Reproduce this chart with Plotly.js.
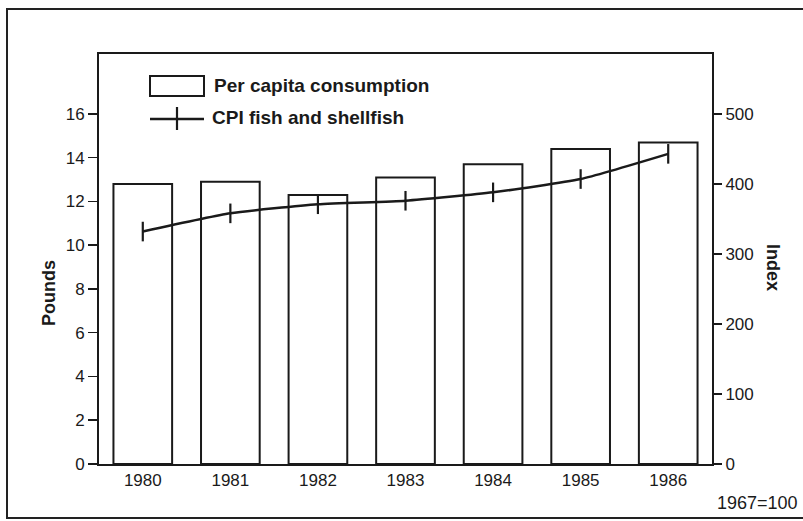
<!DOCTYPE html>
<html>
<head>
<meta charset="utf-8">
<script src="https://cdn.plot.ly/plotly-3.0.1.min.js"></script>
<style>
  html, body { margin: 0; padding: 0; background: #ffffff; }
  #chart { width: 803px; height: 521px; }
</style>
</head>
<body>
<div id="chart"></div>
<script>
// Fish and shellfish: per capita consumption vs. consumer price index
const years = ['1980', '1981', '1982', '1983', '1984', '1985', '1986'];
const consumptionPounds = [12.8, 12.9, 12.3, 13.1, 13.7, 14.4, 14.7];
const cpiFishShellfish = [332, 358, 371, 376, 388, 407, 443];

const leftTicks = [0, 2, 4, 6, 8, 10, 12, 14, 16];
const rightTicks = [0, 100, 200, 300, 400, 500];

const legendLabels = ['Per capita consumption', 'CPI fish and shellfish'];
const leftTitle = 'Pounds';
const rightTitle = 'Index';
const baseNote = '1967=100';

const ink = '#1a1a1a';
const font = 'Liberation Sans, Arial, Helvetica, sans-serif';

const bars = {
  type: 'bar',
  x: years,
  y: consumptionPounds,
  marker: { color: '#ffffff', line: { color: ink, width: 2 } },
  hoverinfo: 'x+y',
  name: legendLabels[0]
};

const cpi = {
  type: 'scatter',
  mode: 'lines+markers',
  x: years,
  y: cpiFishShellfish,
  yaxis: 'y2',
  line: { color: ink, width: 2.5, shape: 'spline', smoothing: 0.5 },
  marker: { symbol: 'line-ns', size: 14, line: { color: ink, width: 2.2 } },
  name: legendLabels[1]
};

// plot area: x 99..712 px, y 54..464 px
const L = 99, R = 712, T = 54, B = 464;
const W = 803, H = 521;
const px = v => (v - L) / (R - L);
const py = v => (B - v) / (B - T);

const shapes = [
  // outer frame
  { type: 'rect', xref: 'paper', yref: 'paper',
    x0: px(7), x1: px(806), y0: py(518), y1: py(9),
    line: { color: '#222', width: 2 } },
  // legend key: bar
  { type: 'rect', xref: 'paper', yref: 'paper',
    x0: px(150), x1: px(204), y0: py(96), y1: py(76),
    line: { color: ink, width: 2 }, fillcolor: '#ffffff' },
  // legend key: line with tick
  { type: 'line', xref: 'paper', yref: 'paper',
    x0: px(150), x1: px(204), y0: py(119), y1: py(119),
    line: { color: ink, width: 2.5 } },
  { type: 'line', xref: 'paper', yref: 'paper',
    x0: px(177), x1: px(177), y0: py(107), y1: py(130),
    line: { color: ink, width: 2.2 } }
];

const annotations = [
  { xref: 'paper', yref: 'paper', x: px(212), y: py(86),
    xanchor: 'left', yanchor: 'middle', showarrow: false,
    text: legendLabels[0], font: { family: font, size: 19, color: ink, weight: 'bold' } },
  { xref: 'paper', yref: 'paper', x: px(210), y: py(117),
    xanchor: 'left', yanchor: 'middle', showarrow: false,
    text: legendLabels[1], font: { family: font, size: 19, color: ink, weight: 'bold' } },
  { xref: 'paper', yref: 'paper', x: px(49), y: py(293),
    xanchor: 'center', yanchor: 'middle', showarrow: false, textangle: -90,
    text: leftTitle, font: { family: font, size: 18, color: ink, weight: 'bold' } },
  { xref: 'paper', yref: 'paper', x: px(773), y: py(267),
    xanchor: 'center', yanchor: 'middle', showarrow: false, textangle: 90,
    text: rightTitle, font: { family: font, size: 18, color: ink, weight: 'bold' } },
  { xref: 'paper', yref: 'paper', x: px(758), y: py(503),
    xanchor: 'center', yanchor: 'middle', showarrow: false,
    text: baseNote, font: { family: font, size: 18, color: ink } }
];

const layout = {
  width: W, height: H,
  margin: { l: L, r: W - R, t: T, b: H - B, pad: 0 },
  paper_bgcolor: '#ffffff',
  plot_bgcolor: '#ffffff',
  showlegend: false,
  bargap: 0.33,
  font: { family: font, size: 17, color: ink },
  xaxis: {
    type: 'category',
    range: [-0.5, 6.5],
    showline: true, linecolor: ink, linewidth: 2, mirror: true,
    showgrid: false, zeroline: false,
    ticks: '', ticklabelstandoff: 0,
    tickfont: { family: font, size: 17, color: ink }
  },
  yaxis: {
    range: [0, 18.74],
    tickvals: leftTicks,
    showline: true, linecolor: ink, linewidth: 2, mirror: true,
    showgrid: false, zeroline: false,
    ticks: 'outside', ticklen: 9, tickwidth: 1.5, tickcolor: ink,
    tickfont: { family: font, size: 17, color: ink }
  },
  yaxis2: {
    overlaying: 'y', side: 'right',
    range: [0, 585.6],
    tickvals: rightTicks,
    showline: true, linecolor: ink, linewidth: 2,
    showgrid: false, zeroline: false,
    ticks: 'outside', ticklen: 8, tickwidth: 1.5, tickcolor: ink,
    tickfont: { family: font, size: 17, color: ink }
  },
  shapes: shapes,
  annotations: annotations
};

Plotly.newPlot('chart', [bars, cpi], layout, { displayModeBar: false, staticPlot: true });
</script>
</body>
</html>
